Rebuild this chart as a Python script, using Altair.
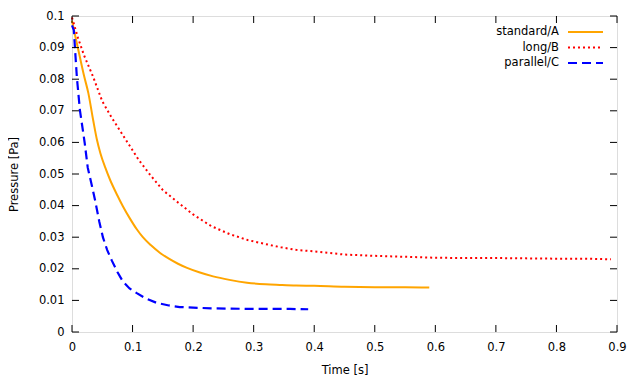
import altair as alt
import pandas as pd

# ---------------- data ----------------
t_std = [0.0, 0.005, 0.013, 0.02, 0.027, 0.035, 0.041, 0.047, 0.055, 0.063, 0.075, 0.084, 0.096,
         0.107, 0.117, 0.13, 0.145, 0.16, 0.175, 0.19, 0.21, 0.233, 0.26, 0.289, 0.32,
         0.343, 0.37, 0.4, 0.45, 0.5, 0.55, 0.59]
p_std = [0.0985, 0.094, 0.087, 0.081, 0.0756, 0.067, 0.061, 0.0565, 0.052, 0.0481, 0.0432, 0.0398, 0.0358,
         0.0325, 0.0300, 0.0275, 0.0251, 0.0232, 0.0216, 0.0203, 0.0189, 0.0176, 0.0165, 0.0156, 0.0151,
         0.0149, 0.0147, 0.0146, 0.0143, 0.0142, 0.0142, 0.0141]

t_long = [0.0, 0.01, 0.02, 0.035, 0.05, 0.065, 0.08, 0.095, 0.11, 0.13, 0.15, 0.175, 0.2,
          0.23, 0.26, 0.29, 0.32, 0.345, 0.37, 0.4, 0.45, 0.5, 0.55, 0.6, 0.65, 0.7, 0.75,
          0.8, 0.85, 0.89]
p_long = [0.0995, 0.093, 0.0875, 0.0807, 0.073, 0.068, 0.0635, 0.059, 0.0545, 0.0495, 0.0449,
          0.041, 0.0372, 0.0335, 0.031, 0.0291, 0.0278, 0.0268, 0.026, 0.0255, 0.0245, 0.0241,
          0.0238, 0.0235, 0.0234, 0.0234, 0.0233, 0.0232, 0.0232, 0.023]

t_par = [0.0, 0.003, 0.008, 0.013, 0.021, 0.026, 0.032, 0.038, 0.045, 0.051, 0.058, 0.066,
         0.075, 0.084, 0.095, 0.107, 0.12, 0.14, 0.16, 0.178, 0.2, 0.23, 0.26, 0.3, 0.33,
         0.36, 0.39]
p_par = [0.097, 0.0955, 0.0807, 0.0703, 0.0598, 0.052, 0.047, 0.0418, 0.035, 0.030, 0.026,
         0.0225, 0.019, 0.016, 0.0138, 0.0123, 0.0108, 0.0092, 0.0084, 0.0079, 0.0077, 0.0075,
         0.0074, 0.0073, 0.0073, 0.0073, 0.0072]

series_names = ["standard/A", "long/B", "parallel/C"]
series_colors = ["#FFA500", "#FF0000", "#0000FF"]

x_ticks = [0, 0.1, 0.2, 0.3, 0.4, 0.5, 0.6, 0.7, 0.8, 0.9]
y_ticks = [0, 0.01, 0.02, 0.03, 0.04, 0.05, 0.06, 0.07, 0.08, 0.09, 0.1]

# ---------------- layout ----------------
W, H = 545, 316
FONT = "DejaVu Sans"
FS = 11.5
TICK = 7

x_scale = alt.Scale(domain=[0, 0.9], nice=False, zero=False)
y_scale = alt.Scale(domain=[0, 0.1], nice=False, zero=False)

axis_style = dict(labelFont=FONT, labelFontSize=FS, labelColor="black",
                  titleFont=FONT, titleFontSize=FS, titleColor="black",
                  titleFontWeight="normal", domain=False, ticks=False, grid=False)
x_axis = alt.Axis(values=x_ticks, format="~g", title="Time [s]", labelPadding=9,
                  titlePadding=12, labelFlush=False, **axis_style)
y_axis = alt.Axis(values=y_ticks, format="~g", title="Pressure [Pa]", labelPadding=8,
                  titlePadding=19, **axis_style)


def X(field):
    return alt.X(field, scale=x_scale, axis=x_axis)


def Y(field):
    return alt.Y(field, scale=y_scale, axis=y_axis)


df_std = pd.DataFrame({"t": t_std, "p": p_std})
df_long = pd.DataFrame({"t": t_long, "p": p_long})
df_par = pd.DataFrame({"t": t_par, "p": p_par})

line_std = alt.Chart(df_std).mark_line(color=series_colors[0], strokeWidth=2,
                                       interpolate="monotone").encode(x=X("t:Q"), y=Y("p:Q"))
line_long = alt.Chart(df_long).mark_line(color=series_colors[1], strokeWidth=2,
                                         strokeDash=[2, 3]).encode(x=X("t:Q"), y=Y("p:Q"))
line_par = alt.Chart(df_par).mark_line(color=series_colors[2], strokeWidth=2.2,
                                       strokeDash=[9, 5]).encode(x=X("t:Q"), y=Y("p:Q"))

# inward ticks on all four sides (gnuplot style)
dfx = pd.DataFrame({"t": x_ticks})
dfy = pd.DataFrame({"p": y_ticks})
tick_style = dict(color="black", strokeWidth=1)
ticks_bottom = alt.Chart(dfx).mark_rule(**tick_style).encode(
    x=X("t:Q"), y=alt.value(H), y2=alt.value(H - TICK))
ticks_top = alt.Chart(dfx).mark_rule(**tick_style).encode(
    x=X("t:Q"), y=alt.value(0), y2=alt.value(TICK))
ticks_left = alt.Chart(dfy).mark_rule(**tick_style).encode(
    y=Y("p:Q"), x=alt.value(0), x2=alt.value(TICK))
ticks_right = alt.Chart(dfy).mark_rule(**tick_style).encode(
    y=Y("p:Q"), x=alt.value(W), x2=alt.value(W - TICK))

# legend (text right-aligned, sample line to its right)
legend_layers = []
dashes = [None, [2, 3], [9, 5]]
for i, name in enumerate(series_names):
    yy = 16 + i * 15.5
    legend_layers.append(
        alt.Chart(pd.DataFrame({"label": [name]})).mark_text(
            align="right", baseline="middle", font=FONT, fontSize=FS, color="black"
        ).encode(x=alt.value(487), y=alt.value(yy), text="label:N")
    )
    rule_kwargs = dict(color=series_colors[i], strokeWidth=2)
    if dashes[i] is not None:
        rule_kwargs["strokeDash"] = dashes[i]
    legend_layers.append(
        alt.Chart(pd.DataFrame({"label": [name]})).mark_rule(**rule_kwargs).encode(
            x=alt.value(496), x2=alt.value(531), y=alt.value(yy))
    )

chart = alt.layer(
    line_std, line_long, line_par,
    ticks_bottom, ticks_top, ticks_left, ticks_right,
    *legend_layers,
).properties(
    width=W, height=H,
    autosize=alt.AutoSizeParams(type="none"),
    padding={"left": 64, "top": 8, "right": 12, "bottom": 44},
).configure_view(
    stroke="black", strokeWidth=1
).configure(background="white")

chart.save("out.html", embed_options={"renderer": "svg", "actions": False})
